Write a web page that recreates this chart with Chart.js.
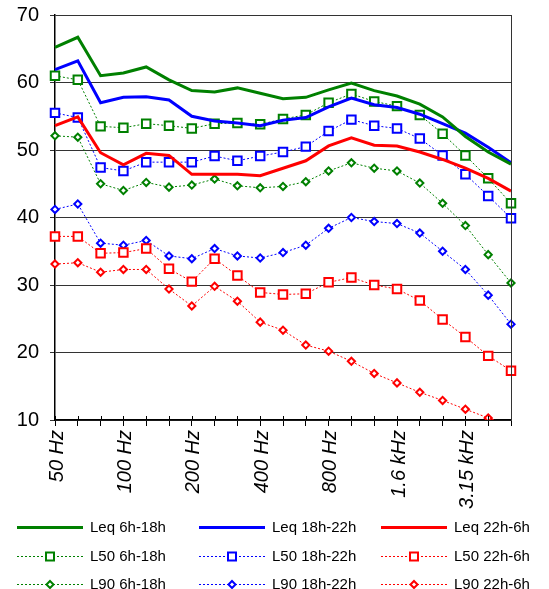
<!DOCTYPE html>
<html>
<head>
<meta charset="utf-8">
<script src="https://cdn.jsdelivr.net/npm/chart.js"></script>
<style>
  body { margin: 0; background: #fff; }
  #wrap { width: 549px; height: 589px; }
</style>
</head>
<body>
<div id="wrap"><canvas id="grafico" width="549" height="589"></canvas></div>
<script>
// bandas de tercio de octava
var bandas = ['50 Hz', '63 Hz', '80 Hz', '100 Hz', '125 Hz', '160 Hz', '200 Hz', '250 Hz', '315 Hz', '400 Hz',
  '500 Hz', '630 Hz', '800 Hz', '1 kHz', '1.25 kHz', '1.6 kHz', '2 kHz', '2.5 kHz', '3.15 kHz', '4 kHz', '5 kHz'];

var leqDia   = [65.2, 66.7, 61.0, 61.4, 62.3, 60.4, 58.8, 58.6, 59.2, 58.4, 57.6, 57.8, 58.9, 59.9, 58.8, 58.0, 56.8, 54.9, 52.0, 49.7, 47.9];
var leqTarde = [61.9, 63.2, 57.0, 57.8, 57.9, 57.4, 55.0, 54.3, 54.0, 53.6, 54.4, 54.8, 56.4, 57.7, 56.7, 56.3, 55.3, 53.9, 52.5, 50.4, 48.1];
var leqNoche = [53.6, 54.9, 49.6, 47.8, 49.5, 49.2, 46.4, 46.4, 46.4, 46.2, 47.3, 48.4, 50.6, 51.8, 50.7, 50.6, 49.7, 48.6, 47.3, 45.8, 43.9];

var l50Dia   = [61.0, 60.4, 53.5, 53.3, 53.9, 53.6, 53.2, 53.9, 54.0, 53.8, 54.6, 55.2, 57.0, 58.3, 57.2, 56.5, 55.2, 52.4, 49.2, 45.8, 42.1];
var l50Tarde = [55.5, 54.8, 47.4, 46.9, 48.2, 48.2, 48.2, 49.1, 48.4, 49.1, 49.7, 50.5, 52.8, 54.5, 53.6, 53.2, 51.7, 49.2, 46.4, 43.2, 39.9];
var l50Noche = [37.2, 37.2, 34.7, 34.8, 35.4, 32.4, 30.5, 33.9, 31.4, 28.9, 28.6, 28.7, 30.4, 31.1, 30.0, 29.4, 27.7, 24.9, 22.3, 19.5, 17.3];

var l90Dia   = [52.1, 51.9, 45.0, 44.0, 45.2, 44.5, 44.8, 45.7, 44.7, 44.4, 44.6, 45.3, 46.9, 48.1, 47.3, 46.9, 45.1, 42.1, 38.8, 34.5, 30.3];
var l90Tarde = [41.2, 42.0, 36.2, 35.9, 36.6, 34.3, 33.9, 35.4, 34.3, 34.0, 34.8, 35.9, 38.4, 40.0, 39.4, 39.1, 37.7, 35.0, 32.3, 28.5, 24.2];
var l90Noche = [33.1, 33.3, 31.9, 32.3, 32.3, 29.4, 26.9, 29.8, 27.6, 24.5, 23.3, 21.1, 20.2, 18.7, 16.9, 15.5, 14.1, 12.9, 11.6, 10.3, 9.2];

var verde = '#008000', azul = '#0000ff', rojo = '#ff0000';
var recorte = { left: 8, top: 8, right: 8, bottom: 0 };

function serieLeq(nombre, datos, color) {
  return {
    label: nombre, data: datos, borderColor: color, backgroundColor: color,
    borderWidth: 3, pointRadius: 0, tension: 0, clip: recorte, tipo: 'leq'
  };
}

function serieL(nombre, datos, color, forma) {
  return {
    label: nombre, data: datos, borderColor: color, backgroundColor: '#fff',
    borderWidth: 1, borderDash: [2, 2], tension: 0, clip: recorte,
    pointStyle: forma, pointRadius: forma === 'rect' ? 6 : 3.6,
    pointBorderWidth: 2, pointBorderColor: color, pointBackgroundColor: '#fff',
    tipo: forma
  };
}

var series = [
  serieLeq('Leq 6h-18h', leqDia, verde),
  serieLeq('Leq 18h-22h', leqTarde, azul),
  serieLeq('Leq 22h-6h', leqNoche, rojo),
  serieL('L50 6h-18h', l50Dia, verde, 'rect'),
  serieL('L50 18h-22h', l50Tarde, azul, 'rect'),
  serieL('L50 22h-6h', l50Noche, rojo, 'rect'),
  serieL('L90 6h-18h', l90Dia, verde, 'rectRot'),
  serieL('L90 18h-22h', l90Tarde, azul, 'rectRot'),
  serieL('L90 22h-6h', l90Noche, rojo, 'rectRot')
];

function marcador(ctx, tipo, x, y, color) {
  ctx.save();
  ctx.setLineDash([]);
  ctx.lineWidth = 2;
  ctx.strokeStyle = color;
  ctx.fillStyle = '#fff';
  ctx.beginPath();
  if (tipo === 'rect') {
    ctx.rect(x - 4, y - 4, 8, 8);
  } else {
    ctx.moveTo(x, y - 3.5); ctx.lineTo(x + 3.5, y); ctx.lineTo(x, y + 3.5); ctx.lineTo(x - 3.5, y); ctx.closePath();
  }
  ctx.fill();
  ctx.stroke();
  ctx.restore();
}

// marco, marcas del eje x por encima y leyenda en 3 columnas
var extras = {
  id: 'extras',
  afterDatasetsDraw: function (chart) {
    var ctx = chart.ctx;
    var area = chart.chartArea;
    var ejeX = chart.scales.x;
    ctx.save();
    ctx.strokeStyle = '#000';
    ctx.lineWidth = 1;
    for (var i = 0; i < bandas.length; i++) {
      var px = Math.round(ejeX.getPixelForValue(i)) + 0.5;
      ctx.beginPath();
      ctx.moveTo(px, area.bottom - 4);
      ctx.lineTo(px, area.bottom);
      ctx.stroke();
    }
    ctx.strokeStyle = '#333';
    ctx.beginPath();
    ctx.moveTo(Math.round(area.right) + 0.5, area.top);
    ctx.lineTo(Math.round(area.right) + 0.5, area.bottom);
    ctx.stroke();
    ctx.restore();
  },
  afterDraw: function (chart) {
    var ctx = chart.ctx;
    var columnas = [17, 199, 381];
    var filas = [527, 556, 584];
    ctx.save();
    ctx.font = '15px "Liberation Sans", Arial, sans-serif';
    ctx.textBaseline = 'middle';
    ctx.fillStyle = '#000';
    chart.data.datasets.forEach(function (ds, k) {
      var x = columnas[k % 3];
      var y = filas[Math.floor(k / 3)];
      ctx.save();
      ctx.strokeStyle = ds.borderColor;
      ctx.lineWidth = ds.borderWidth;
      ctx.setLineDash(ds.tipo === 'leq' ? [] : [2, 2]);
      ctx.beginPath();
      ctx.moveTo(x, y + 0.5);
      ctx.lineTo(x + 66, y + 0.5);
      ctx.stroke();
      ctx.restore();
      if (ds.tipo !== 'leq') marcador(ctx, ds.tipo, x + 33, y + 0.5, ds.borderColor);
      ctx.fillText(ds.label, x + 73, y + 1);
    });
    ctx.restore();
  }
};

var myChart = new Chart(document.getElementById('grafico').getContext('2d'), {
  type: 'line',
  data: { labels: bandas, datasets: series },
  options: {
    responsive: false,
    animation: false,
    layout: { padding: { top: 15, right: 38, bottom: 0, left: 0 } },
    plugins: { legend: { display: false }, tooltip: { enabled: false } },
    scales: {
      x: {
        offset: false,
        afterFit: function (s) { s.height = 169; s.paddingLeft = 0; s.paddingRight = 0; },
        grid: { drawOnChartArea: false, tickLength: 6, color: '#000' },
        border: { color: '#000', width: 1.5 },
        ticks: {
          autoSkip: false, minRotation: 90, maxRotation: 90, padding: 4, labelOffset: 2, color: '#000',
          font: { family: '"Liberation Sans", Arial, sans-serif', size: 20, style: 'italic' },
          callback: function (v, i) { return i % 3 === 0 ? bandas[i] : ''; }
        }
      },
      y: {
        min: 10, max: 70,
        afterFit: function (s) { s.width = 55; s.paddingTop = 0; s.paddingBottom = 0; },
        grid: { color: '#333', tickLength: 5 },
        border: { color: '#000', width: 1.5 },
        ticks: {
          stepSize: 10, padding: 11, color: '#000',
          font: { family: '"Liberation Sans", Arial, sans-serif', size: 20 }
        }
      }
    }
  },
  plugins: [extras]
});
</script>
</body>
</html>
